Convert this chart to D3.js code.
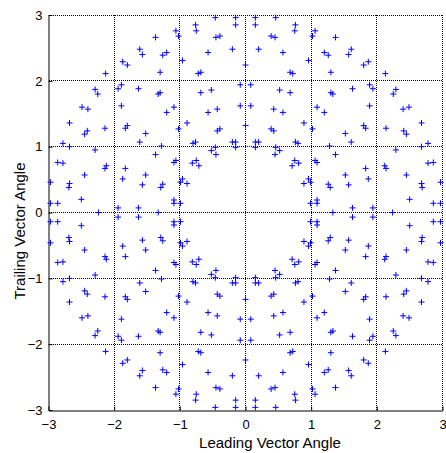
<!DOCTYPE html>
<html>
<head>
<meta charset="utf-8">
<script src="https://cdn.jsdelivr.net/npm/d3@7"></script>
<style>
  html, body { margin: 0; padding: 0; background: #fff; }
  svg { display: block; font-family: "Liberation Sans", Arial, sans-serif; }
</style>
</head>
<body>
<svg id="chart" width="446" height="453"></svg>
<script>
// ---- data (Leading Vector Angle, Trailing Vector Angle) ----
const ticks = [-3, -2, -1, 0, 1, 2, 3];
const xLabel = "Leading Vector Angle";
const yLabel = "Trailing Vector Angle";

const pointsNE = [
[0.15,2.96],[0.46,2.96],[0.15,2.85],[0.76,2.85],[0.75,2.76],[0.39,2.68],[0.45,2.66],[1.06,2.76],[1.02,2.68],[1.37,2.66],
[0.20,2.48],[0.57,2.43],[1.61,2.48],[1.20,2.43],[1.26,2.39],[1.57,2.40],[0,2.24],[0.96,2.31],[1.87,2.29],[1.80,2.24],
[0.68,2.13],[0.72,2.11],[1.30,2.13],[2.13,2.11],[0.08,1.94],[0.52,1.86],[0.68,1.82],[1.30,1.82],[1.33,1.80],[1.63,1.88],
[1.89,1.94],[1.94,1.88],[2.29,1.87],[2.25,1.80],[0.08,1.62],[0.43,1.57],[0.57,1.52],[1.09,1.60],[1.20,1.52],[1.89,1.62],
[2.40,1.57],[2.49,1.60],[0,1.32],[0.39,1.27],[0.43,1.24],[0.89,1.36],[1.02,1.27],[1.80,1.32],[1.83,1.28],[1.52,1.20],
[1.61,1.07],[2.14,1.28],[2.41,1.24],[2.45,1.19],[2.68,1.36],[2.78,1.05],[2.68,1.00],[0.15,1.07],[0.20,1.07],[0.15,0.99],
[0.76,1.07],[0.80,1.05],[0.46,0.99],[0.52,0.94],[0.45,0.88],[1.28,1.01],[1.37,0.88],[2.29,0.95],[0.75,0.79],[0.81,0.75],
[0.71,0.71],[1.06,0.79],[1.09,0.76],[1.83,0.67],[2.12,0.71],[2.14,0.67],[2.78,0.75],[2.86,0.76],[1.52,0.57],[1.87,0.51],
[2.45,0.57],[0.96,0.51],[0.99,0.46],[0.89,0.44],[1.26,0.43],[1.29,0.38],[1.57,0.42],[2.68,0.44],[2.69,0.38],[2.97,0.46],
[2.50,0.20],[0.99,0.14],[1.09,0.19],[1.09,0.14],[1.63,0.07],[1.94,0.07],[1.33,0],[2.24,0],[2.86,0.14],[2.97,0.14]
];

const pointsNW = [
[-0.15,2.96],[-0.46,2.96],[-0.15,2.85],[-0.76,2.85],[-0.75,2.76],[-0.39,2.68],[-0.45,2.66],[-1.06,2.76],[-1.02,2.68],[-1.37,2.66],
[-0.20,2.48],[-0.57,2.43],[-1.61,2.48],[-1.20,2.43],[-1.26,2.39],[-1.57,2.40],[-0.96,2.31],[-1.87,2.29],[-1.80,2.24],
[-0.68,2.13],[-0.72,2.11],[-1.30,2.13],[-2.13,2.11],[-0.08,1.94],[-0.52,1.86],[-0.68,1.82],[-1.30,1.82],[-1.33,1.80],[-1.63,1.88],
[-1.89,1.94],[-1.94,1.88],[-2.29,1.87],[-2.25,1.80],[-0.08,1.62],[-0.43,1.57],[-0.57,1.52],[-1.09,1.60],[-1.20,1.52],[-1.89,1.62],
[-2.40,1.57],[-2.49,1.60],[-0.39,1.27],[-0.43,1.24],[-0.89,1.36],[-1.02,1.27],[-1.80,1.32],[-1.83,1.28],[-1.52,1.20],
[-1.61,1.07],[-2.14,1.28],[-2.41,1.24],[-2.45,1.19],[-2.68,1.36],[-2.78,1.05],[-2.68,1.00],[-0.15,1.07],[-0.20,1.07],[-0.15,0.99],
[-0.76,1.07],[-0.80,1.05],[-0.46,0.99],[-0.52,0.94],[-0.45,0.88],[-1.28,1.01],[-1.37,0.88],[-2.29,0.95],[-0.75,0.79],[-0.81,0.75],
[-0.71,0.71],[-1.06,0.79],[-1.09,0.76],[-1.83,0.67],[-2.12,0.71],[-2.14,0.67],[-2.78,0.75],[-2.86,0.76],[-1.52,0.57],[-1.87,0.51],
[-2.45,0.57],[-0.96,0.51],[-0.99,0.46],[-0.89,0.44],[-1.26,0.43],[-1.29,0.38],[-1.57,0.42],[-2.68,0.44],[-2.69,0.38],[-2.97,0.46],
[-2.50,0.20],[-0.99,0.14],[-1.09,0.19],[-1.09,0.14],[-1.63,0.07],[-1.94,0.07],[-1.33,0],[-2.24,0],[-2.86,0.14],[-2.97,0.14]
];

const pointsSE = [
[0.15,-2.96],[0.46,-2.96],[0.15,-2.85],[0.76,-2.85],[0.75,-2.76],[0.39,-2.68],[0.45,-2.66],[1.06,-2.76],[1.02,-2.68],[1.37,-2.66],
[0.20,-2.48],[0.57,-2.43],[1.61,-2.48],[1.20,-2.43],[1.26,-2.39],[1.57,-2.40],[0,-2.24],[0.96,-2.31],[1.87,-2.29],[1.80,-2.24],
[0.68,-2.13],[0.72,-2.11],[1.30,-2.13],[2.13,-2.11],[0.08,-1.94],[0.52,-1.86],[0.68,-1.82],[1.30,-1.82],[1.33,-1.80],[1.63,-1.88],
[1.89,-1.94],[1.94,-1.88],[2.29,-1.87],[2.25,-1.80],[0.08,-1.62],[0.43,-1.57],[0.57,-1.52],[1.09,-1.60],[1.20,-1.52],[1.89,-1.62],
[2.40,-1.57],[2.49,-1.60],[0,-1.32],[0.39,-1.27],[0.43,-1.24],[0.89,-1.36],[1.02,-1.27],[1.80,-1.32],[1.83,-1.28],[1.52,-1.20],
[1.61,-1.07],[2.14,-1.28],[2.41,-1.24],[2.45,-1.19],[2.68,-1.36],[2.78,-1.05],[2.68,-1.00],[0.15,-1.07],[0.20,-1.07],[0.15,-0.99],
[0.76,-1.07],[0.80,-1.05],[0.46,-0.99],[0.52,-0.94],[0.45,-0.88],[1.28,-1.01],[1.37,-0.88],[2.29,-0.95],[0.75,-0.79],[0.81,-0.75],
[0.71,-0.71],[1.06,-0.79],[1.09,-0.76],[1.83,-0.67],[2.12,-0.71],[2.14,-0.67],[2.78,-0.75],[2.86,-0.76],[1.52,-0.57],[1.87,-0.51],
[2.45,-0.57],[0.96,-0.51],[0.99,-0.46],[0.89,-0.44],[1.26,-0.43],[1.29,-0.38],[1.57,-0.42],[2.68,-0.44],[2.69,-0.38],[2.97,-0.46],
[2.50,-0.20],[0.99,-0.14],[1.09,-0.19],[1.09,-0.14],[1.63,-0.07],[1.94,-0.07],[2.86,-0.14],[2.97,-0.14]
];

const pointsSW = [
[-0.15,-2.96],[-0.46,-2.96],[-0.15,-2.85],[-0.76,-2.85],[-0.75,-2.76],[-0.39,-2.68],[-0.45,-2.66],[-1.06,-2.76],[-1.02,-2.68],[-1.37,-2.66],
[-0.20,-2.48],[-0.57,-2.43],[-1.61,-2.48],[-1.20,-2.43],[-1.26,-2.39],[-1.57,-2.40],[-0.96,-2.31],[-1.87,-2.29],[-1.80,-2.24],
[-0.68,-2.13],[-0.72,-2.11],[-1.30,-2.13],[-2.13,-2.11],[-0.08,-1.94],[-0.52,-1.86],[-0.68,-1.82],[-1.30,-1.82],[-1.33,-1.80],[-1.63,-1.88],
[-1.89,-1.94],[-1.94,-1.88],[-2.29,-1.87],[-2.25,-1.80],[-0.08,-1.62],[-0.43,-1.57],[-0.57,-1.52],[-1.09,-1.60],[-1.20,-1.52],[-1.89,-1.62],
[-2.40,-1.57],[-2.49,-1.60],[-0.39,-1.27],[-0.43,-1.24],[-0.89,-1.36],[-1.02,-1.27],[-1.80,-1.32],[-1.83,-1.28],[-1.52,-1.20],
[-1.61,-1.07],[-2.14,-1.28],[-2.41,-1.24],[-2.45,-1.19],[-2.68,-1.36],[-2.78,-1.05],[-2.68,-1.00],[-0.15,-1.07],[-0.20,-1.07],[-0.15,-0.99],
[-0.76,-1.07],[-0.80,-1.05],[-0.46,-0.99],[-0.52,-0.94],[-0.45,-0.88],[-1.28,-1.01],[-1.37,-0.88],[-2.29,-0.95],[-0.75,-0.79],[-0.81,-0.75],
[-0.71,-0.71],[-1.06,-0.79],[-1.09,-0.76],[-1.83,-0.67],[-2.12,-0.71],[-2.14,-0.67],[-2.78,-0.75],[-2.86,-0.76],[-1.52,-0.57],[-1.87,-0.51],
[-2.45,-0.57],[-0.96,-0.51],[-0.99,-0.46],[-0.89,-0.44],[-1.26,-0.43],[-1.29,-0.38],[-1.57,-0.42],[-2.68,-0.44],[-2.69,-0.38],[-2.97,-0.46],
[-2.50,-0.20],[-0.99,-0.14],[-1.09,-0.19],[-1.09,-0.14],[-1.63,-0.07],[-1.94,-0.07],[-2.86,-0.14],[-2.97,-0.14]
];

// ---- layout ----
const svg = d3.select("#chart");
const plotL = 48.5, plotR = 442.5, plotT = 15, plotB = 410;

const x = d3.scaleLinear().domain([-3, 3]).range([plotL, plotR]);
const y = d3.scaleLinear().domain([-3, 3]).range([plotB, plotT]);
const snap = v => Math.round(v - 0.5) + 0.5;

// grid (dotted, pixel aligned)
const grid = svg.append("g");
grid.selectAll("line.gx").data(ticks.slice(1)).enter().append("line")
  .attr("class", "gx")
  .attr("x1", d => snap(x(d))).attr("x2", d => snap(x(d)))
  .attr("y1", 15).attr("y2", 410)
  .attr("stroke", "#000").attr("stroke-width", 1).attr("stroke-dasharray", "1,1");
grid.selectAll("line.gy").data(ticks.slice(1)).enter().append("line")
  .attr("class", "gy")
  .attr("y1", d => snap(y(d))).attr("y2", d => snap(y(d)))
  .attr("x1", 49).attr("x2", 443)
  .attr("stroke", "#000").attr("stroke-width", 1).attr("stroke-dasharray", "1,1");

// axes
const fmt = d3.format("d");
const xAxis = d3.axisBottom(x).tickValues(ticks).tickSizeInner(-4).tickSizeOuter(0).tickPadding(9).tickFormat(fmt);
const yAxis = d3.axisLeft(y).tickValues(ticks).tickSizeInner(-4).tickSizeOuter(0).tickPadding(6).tickFormat(fmt);

const gx = svg.append("g").attr("transform", `translate(0,${plotB + 0.5})`).call(xAxis);
const gy = svg.append("g").attr("transform", `translate(${plotL},0)`).call(yAxis);
[gx, gy].forEach(g => {
  g.select(".domain").attr("stroke", "#000").attr("stroke-width", 1);
  g.selectAll(".tick line").attr("stroke", "#000");
  g.selectAll(".tick text").attr("fill", "#000").style("font-size", "13px")
    .style("font-family", '"Liberation Sans", Arial, sans-serif');
});

// axis labels
svg.append("text").attr("x", 270).attr("y", 448)
  .attr("text-anchor", "middle").style("font-size", "15px").attr("fill", "#000")
  .text(xLabel);
svg.append("text").attr("transform", `translate(24.5,231) rotate(-90)`)
  .attr("text-anchor", "middle").style("font-size", "15px").attr("fill", "#000")
  .text(yLabel);

// markers
const allPoints = [pointsNE, pointsNW, pointsSW, pointsSE];
const plus = (px, py, r) => `M${px - r},${py}H${px + r}M${px},${py - r}V${py + r}`;
const marks = svg.append("g");
allPoints.forEach((pts, i) => {
  marks.selectAll(`path.q${i}`).data(pts).enter().append("path")
    .attr("class", `q${i}`)
    .attr("d", d => plus(x(d[0]), y(d[1]), 3))
    .attr("fill", "none").attr("stroke", "#0000ff").attr("stroke-width", 1);
});
</script>
</body>
</html>
